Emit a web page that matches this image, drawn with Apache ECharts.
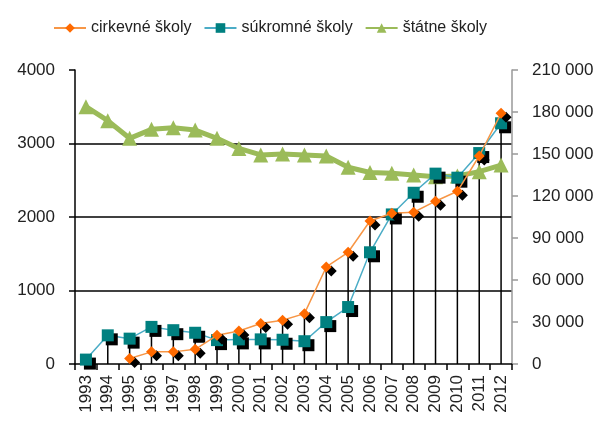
<!DOCTYPE html>
<html>
<head>
<meta charset="utf-8">
<script src="https://cdn.jsdelivr.net/npm/echarts@6/dist/echarts.min.js"></script>
<style>
  html, body { margin: 0; padding: 0; background: #fff; }
  #main { width: 601px; height: 426px; }
</style>
</head>
<body>
<div id="main"></div>
<script>
// roky
var roky = ['1993', '1994', '1995', '1996', '1997', '1998', '1999', '2000', '2001', '2002',
            '2003', '2004', '2005', '2006', '2007', '2008', '2009', '2010', '2011', '2012'];
// počty škôl (ľavá os)
var cirkevne = [null, null, 75, 165, 165, 200, 390, 450, 550, 595,
                685, 1320, 1520, 1945, 2050, 2065, 2215, 2350, 2830, 3410];
var sukromne = [60, 390, 345, 505, 460, 425, 325, 335, 335, 330,
                310, 570, 775, 1520, 2035, 2330, 2590, 2535, 2870, 3275];
// štátne školy (pravá os)
var statne = [183800, 173800, 161200, 167600, 168800, 167100, 161200, 154000, 149300, 150000,
              149300, 148600, 140500, 136800, 136200, 135000, 133800, 134300, 137400, 142100];

var leveTicky = [0, 1000, 2000, 3000, 4000];

// zvislé čiary od osi po najvyšší bod
var zvisle = [];
for (var i = 0; i < roky.length; i++) {
    zvisle.push(Math.max(cirkevne[i] || 0, sukromne[i] || 0));
}

var font = 'Liberation Sans, Arial, sans-serif';

var myChart = echarts.init(document.getElementById('main'));
var option = {
    animation: false,
    backgroundColor: '#fff',
    textStyle: { fontFamily: font },
    legend: {
        data: ['cirkevné školy', 'súkromné školy', 'štátne školy'],
        top: 15,
        left: 48,
        itemWidth: 32,
        itemHeight: 12,
        itemGap: 12,
        textStyle: { fontSize: 16, color: '#222', fontFamily: font }
    },
    grid: { left: 75, right: 89, top: 70, bottom: 62, containLabel: false },
    xAxis: {
        type: 'category',
        data: roky,
        boundaryGap: true,
        axisLine: { lineStyle: { color: '#000', width: 1.5 } },
        axisTick: { show: true, length: 6, lineStyle: { color: '#000', width: 1.5 } },
        axisLabel: { rotate: 90, fontSize: 17, color: '#222', margin: 11, fontFamily: font, interval: 0 }
    },
    yAxis: [
        {
            type: 'value',
            min: leveTicky[0],
            max: leveTicky[leveTicky.length - 1],
            interval: 1000,
            axisLine: { show: true, lineStyle: { color: '#000', width: 1.5 } },
            axisTick: { show: true, length: 6, lineStyle: { color: '#000', width: 1.5 } },
            axisLabel: {
                fontSize: 17, color: '#222', margin: 20, fontFamily: font,
                formatter: function (v) { return String(v); }
            },
            splitLine: {
                show: true,
                lineStyle: { color: ['transparent', '#000', '#000', '#000', 'transparent'], width: 1.5 }
            }
        },
        {
            type: 'value',
            min: 0,
            max: 210000,
            interval: 30000,
            position: 'right',
            axisLine: { show: true, lineStyle: { color: '#999', width: 1.5 } },
            axisTick: { show: true, length: 6, lineStyle: { color: '#999', width: 1.5 } },
            axisLabel: {
                fontSize: 17, color: '#222', margin: 20, fontFamily: font,
                formatter: function (v) {
                    return String(v).replace(/\B(?=(\d{3})+(?!\d))/g, ' ');
                }
            },
            splitLine: { show: false }
        }
    ],
    series: [
        {
            name: 'zvislé',
            type: 'bar',
            data: zvisle,
            barWidth: 1.5,
            itemStyle: { color: '#000' },
            silent: true,
            z: 1
        },
        {
            name: 'štátne školy',
            type: 'line',
            yAxisIndex: 1,
            data: statne,
            symbol: 'triangle',
            symbolSize: 15,
            lineStyle: { color: '#9BBB59', width: 5 },
            itemStyle: { color: '#9BBB59' },
            z: 3
        },
        {
            name: 'súkromné školy',
            type: 'line',
            data: sukromne,
            symbol: 'rect',
            symbolSize: 12,
            lineStyle: { color: '#4BACC6', width: 1.5 },
            itemStyle: {
                color: '#008080',
                shadowColor: '#000', shadowBlur: 0, shadowOffsetX: 4, shadowOffsetY: 4
            },
            z: 4
        },
        {
            name: 'cirkevné školy',
            type: 'line',
            data: cirkevne,
            symbol: 'diamond',
            symbolSize: 11,
            lineStyle: { color: '#F79646', width: 1.5 },
            itemStyle: {
                color: '#FF6A00',
                shadowColor: '#000', shadowBlur: 0, shadowOffsetX: 5, shadowOffsetY: 4
            },
            z: 5
        }
    ]
};
myChart.setOption(option);
</script>
</body>
</html>
